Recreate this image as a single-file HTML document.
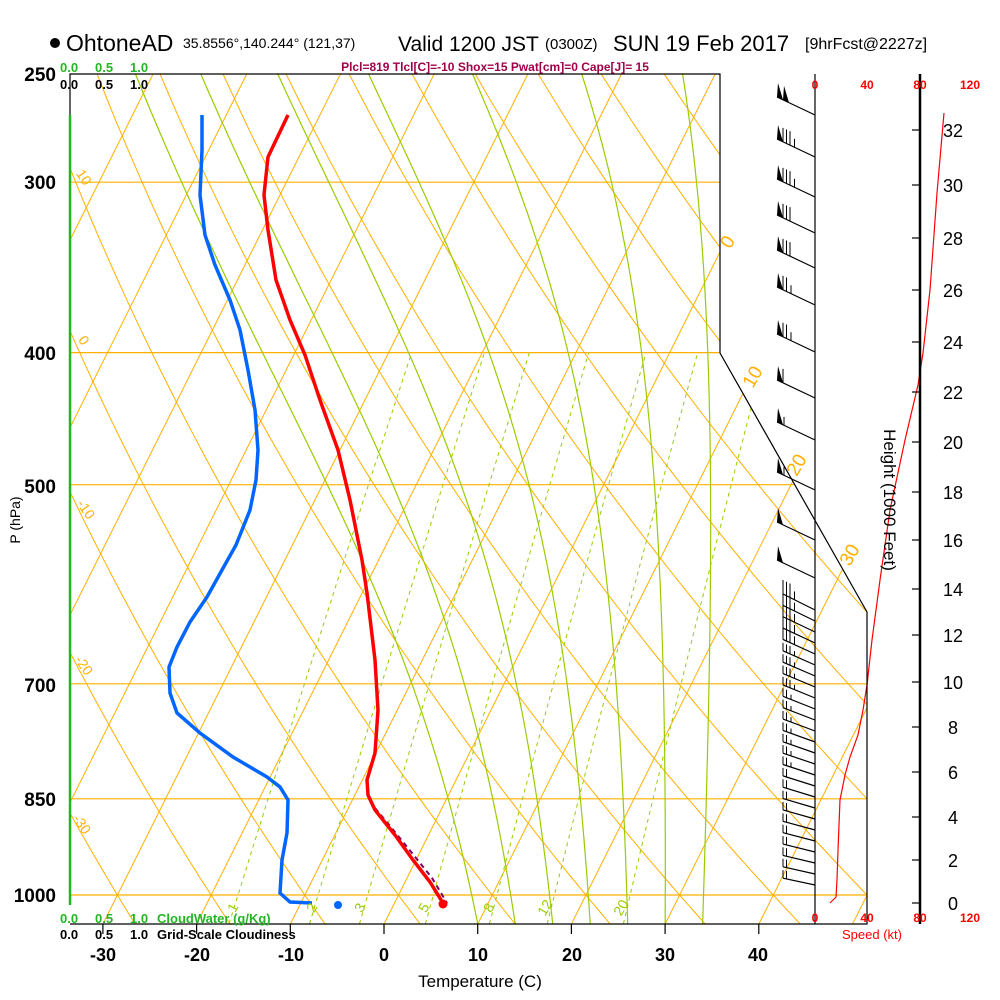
<!DOCTYPE html>
<html><head><meta charset="utf-8"><style>
html,body{margin:0;padding:0;background:#fff;}
svg{display:block;font-family:"Liberation Sans",sans-serif;}
</style></head><body>
<svg id="s" width="1000" height="1000" viewBox="0 0 1000 1000" xmlns="http://www.w3.org/2000/svg">
<defs><clipPath id="cp"><polygon points="70,74 720,74 720,353 867,612 867,924 70,924"/></clipPath></defs>
<g id="grid" clip-path="url(#cp)"></g>
<g id="data"></g>
<polyline points="70,115 70,74 720,74 720,353 867,612 867,924 70,924" fill="none" stroke="#000" stroke-width="1.2"/>
<line x1="70" y1="115" x2="70" y2="905" stroke="#22b722" stroke-width="2.5"/>
<line x1="815" y1="74" x2="815" y2="924" stroke="#000" stroke-width="1.2"/>
<line x1="920" y1="74" x2="920" y2="924" stroke="#000" stroke-width="2.5"/>
<circle cx="55" cy="43" r="5" fill="#000"/>
<text x="66" y="51" font-size="23">OhtoneAD</text>
<text x="183" y="48" font-size="14">35.8556°,140.244° (121,37)</text>
<text x="398" y="51" font-size="21">Valid 1200 JST</text>
<text x="545" y="49" font-size="15">(0300Z)</text>
<text x="613" y="51" font-size="22">SUN 19 Feb 2017</text>
<text x="805" y="49" font-size="16">[9hrFcst@2227z]</text>
<text x="495" y="71" font-size="12" font-weight="bold" fill="#a0004a" text-anchor="middle">Plcl=819 Tlcl[C]=-10 Shox=15 Pwat[cm]=0 Cape[J]= 15</text>
<g font-size="13" font-weight="bold" fill="#22b722"><text x="60" y="72">0.0</text><text x="95" y="72">0.5</text><text x="130" y="72">1.0</text></g>
<g font-size="13" font-weight="bold" fill="#000"><text x="60" y="89">0.0</text><text x="95" y="89">0.5</text><text x="130" y="89">1.0</text></g>
<g font-size="13" font-weight="bold" fill="#22b722"><text x="60" y="923">0.0</text><text x="95" y="923">0.5</text><text x="130" y="923">1.0</text><text x="157" y="923">CloudWater (g/Kg)</text></g>
<g font-size="13" font-weight="bold" fill="#000"><text x="60" y="939">0.0</text><text x="95" y="939">0.5</text><text x="130" y="939">1.0</text><text x="157" y="939">Grid-Scale Cloudiness</text></g>
<g font-size="19" font-weight="bold" text-anchor="end">
<text x="56" y="81">250</text><text x="56" y="189">300</text><text x="56" y="360">400</text><text x="56" y="493">500</text><text x="56" y="692">700</text><text x="56" y="806">850</text><text x="56" y="902">1000</text>
</g>
<text transform="translate(20,520) rotate(-90)" font-size="14" text-anchor="middle">P (hPa)</text>
<g id="tticks" stroke="#000" stroke-width="1.2"></g>
<g font-size="18" font-weight="bold" text-anchor="middle">
<text x="103" y="961">-30</text><text x="197" y="961">-20</text><text x="291" y="961">-10</text><text x="384" y="961">0</text><text x="478" y="961">10</text><text x="572" y="961">20</text><text x="665" y="961">30</text><text x="758" y="961">40</text>
</g>
<text x="480" y="987" font-size="17" text-anchor="middle">Temperature (C)</text>
<g font-size="12" font-weight="bold" fill="#f00" text-anchor="middle">
<text x="815" y="89">0</text><text x="867" y="89">40</text><text x="920" y="89">80</text><text x="970" y="89">120</text>
<text x="815" y="922">0</text><text x="867" y="922">40</text><text x="920" y="922">80</text><text x="970" y="922">120</text>
</g>
<text x="872" y="939" font-size="13" fill="#f00" text-anchor="middle">Speed (kt)</text>
<g id="hticks"></g>
<text transform="translate(884,500) rotate(90)" font-size="17" text-anchor="middle">Height (1000 Feet)</text>
<g font-size="19" fill="#ffb000" text-anchor="middle">
<text transform="translate(733,245) rotate(-60)">0</text>
<text transform="translate(758,380) rotate(-60)">10</text>
<text transform="translate(802,468) rotate(-60)">20</text>
<text transform="translate(855,558) rotate(-60)">30</text>
</g>
<g font-size="14" fill="#ffb000" text-anchor="middle">
<text transform="translate(80,180) rotate(55)">10</text>
<text transform="translate(80,343) rotate(55)">0</text>
<text transform="translate(82,512) rotate(55)">-10</text>
<text transform="translate(80,668) rotate(55)">-20</text>
<text transform="translate(78,827) rotate(55)">-30</text>
</g>
<g font-size="14" fill="#99cc00" text-anchor="middle">
<text transform="translate(237,910) rotate(-60)">1</text>
<text transform="translate(316,910) rotate(-60)">2</text>
<text transform="translate(364,910) rotate(-60)">3</text>
<text transform="translate(428,910) rotate(-60)">5</text>
<text transform="translate(493,910) rotate(-60)">8</text>
<text transform="translate(549,910) rotate(-60)">12</text>
<text transform="translate(625,910) rotate(-60)">20</text>
</g>
</svg>
<script>
var NS="http://www.w3.org/2000/svg";
function Y(p){return 895-592*Math.log(1000/p);}
function X(T,p){return 384+9.37*T+0.5*(924-Y(p));}
function el(parent,tag,attrs){var e=document.createElementNS(NS,tag);for(var k in attrs)e.setAttribute(k,attrs[k]);document.getElementById(parent).appendChild(e);return e;}
function poly(parent,pts,stroke,w,dash){var a={points:pts.map(function(q){return q[0].toFixed(1)+","+q[1].toFixed(1)}).join(" "),fill:"none",stroke:stroke,"stroke-width":w};if(dash)a["stroke-dasharray"]=dash;el(parent,"polyline",a);}
var OR="#ffb000",GR="#99cc00";
[300,400,500,700,850,1000].forEach(function(p){poly("grid",[[70,Y(p)],[870,Y(p)]],OR,1.2);});
for(var T=-140;T<=50;T+=10){poly("grid",[[X(T,1060),Y(1060)],[X(T,240),Y(240)]],OR,1);}
for(var th=-60;th<=200;th+=10){var pts=[];for(var p=1060;p>=240;p-=10){var t=(th+273.15)*Math.pow(p/1000,0.286)-273.15;pts.push([X(t,p),Y(p)]);}poly("grid",pts,OR,1);}
function es(T){return 6.112*Math.exp(17.67*T/(T+243.5));}
for(var T0=10;T0<=34;T0+=4){var t=T0,pts=[];for(var p=1050;p>=250;p-=2){pts.push([X(t,p),Y(p)]);var Tk=t+273.15,e=es(t),rs=0.622*e/(p-e);var d=(287*Tk+2.5e6*rs)/(p*(1004+2.5e6*2.5e6*rs*0.622/(287*Tk*Tk)));t-=d*2;}poly("grid",pts,GR,1.2);}
[1,2,3,5,8,12,20].forEach(function(w){var pts=[];for(var p=1050;p>=400;p-=10){var e=w*p/(622+w),l=Math.log(e/6.112),td=243.5*l/(17.67-l);pts.push([X(td,p),Y(p)]);}poly("grid",pts,GR,1,"4,4");});
for(var T=-30;T<=40;T+=10){el("tticks","line",{x1:384+9.37*T,y1:924,x2:384+9.37*T,y2:934});}
var hy=[903,860,817,772,727,682,635,589,540,492,442,392,342,290,238,185,130];
hy.forEach(function(y,i){el("hticks","line",{x1:912,y1:y,x2:920,y2:y,stroke:"#000","stroke-width":1.2});var t=el("hticks","text",{x:953,y:y+7,"font-size":"18","text-anchor":"middle"});t.textContent=String(i*2);});
poly("data",[[830,903],[836,897],[837,880],[838,850],[840,800],[845,775],[850,757],[858,735],[863,710],[867,685],[872,640],[880,580],[890,510],[905,440],[918,385],[923,353],[930,290],[937,193],[944,113]],"#f00",1.2);
poly("data",[[202,115],[202,150],[200,195],[205,235],[215,265],[230,300],[240,330],[248,370],[255,410],[258,450],[256,480],[250,510],[236,545],[222,570],[207,597],[190,622],[177,647],[169,667],[170,693],[177,713],[200,733],[233,757],[267,777],[280,787],[288,800],[287,833],[282,860],[280,893],[290,902],[312,903]],"#0066ff",3.5);
el("data","circle",{cx:338,cy:905,r:4,fill:"#0066ff"});
poly("data",[[375,808],[390,826],[412,853],[432,878],[447,903]],"#800060",2,"5,4");
poly("data",[[288,115],[268,157],[264,195],[268,230],[276,280],[290,320],[305,355],[320,400],[338,450],[350,500],[362,560],[367,593],[375,660],[378,710],[375,753],[367,780],[368,795],[375,810],[383,820],[395,835],[413,860],[430,882],[443,903]],"#f00",3.5);
el("data","circle",{cx:443,cy:904,r:4.5,fill:"#f00"});
function barb(y,spd,len,dy,fl){var x0=815,x1=815-len,y1=y-dy;el("data","line",{x1:x0,y1:y,x2:x1,y2:y1,stroke:"#000","stroke-width":1.2});
 var ux=(x0-x1)/len,uy=(y-y1)/len,pos=0,s=spd;
 while(s>=50){var ax=x1+ux*pos,ay=y1+uy*pos,bx=x1+ux*(pos+6),by=y1+uy*(pos+6);el("data","polygon",{points:ax+","+ay+" "+bx+","+by+" "+(ax+1)+","+(ay-14),fill:"#000"});pos+=6;s-=50;}
 while(s>=10){var ax=x1+ux*pos,ay=y1+uy*pos;el("data","line",{x1:ax,y1:ay,x2:ax,y2:ay-fl,stroke:"#000","stroke-width":1});pos+=3.5;s-=10;}
 if(s>=5){var ax=x1+ux*(pos+1),ay=y1+uy*(pos+1);el("data","line",{x1:ax,y1:ay,x2:ax,y2:ay-fl*0.6,stroke:"#000","stroke-width":1});}}
[[115,100],[157,85],[197,85],[233,80],[268,80],[305,75],[352,75],[398,60],[440,55],[490,55],[540,50],[578,50]].forEach(function(b){barb(b[0],b[1],38,18,14);});
for(var y=610;y<=892;y+=11){var sp=y<700?35:(y<780?25:20);barb(y,sp,32,Math.max(6,16-(y-610)/30),y<660?14:8);}
</script>
</body></html>
